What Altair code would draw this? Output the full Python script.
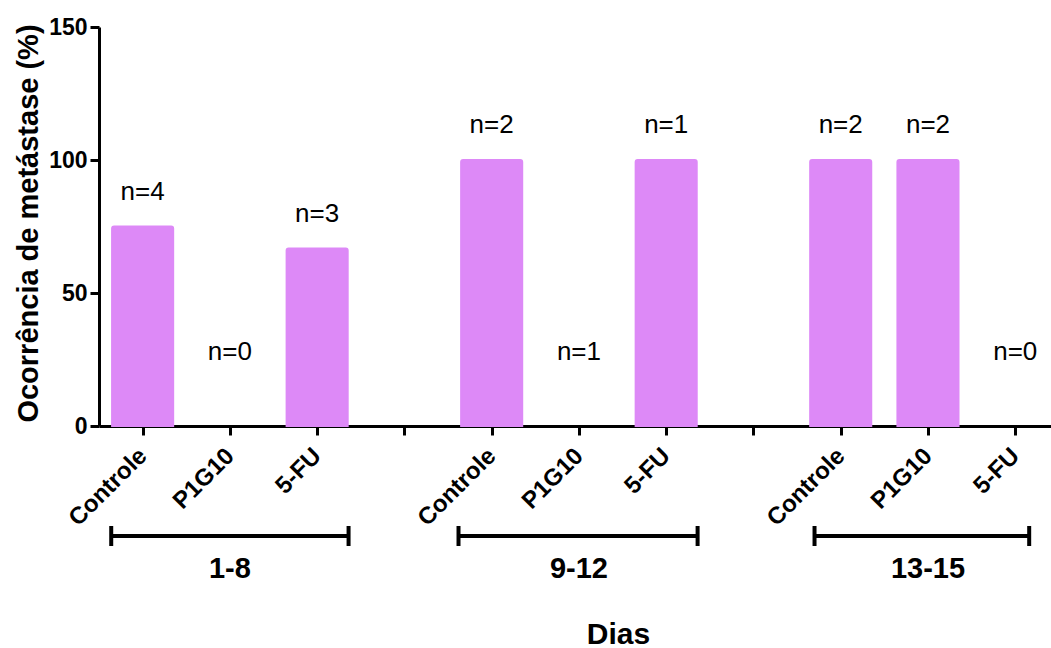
import altair as alt
import pandas as pd

# Metastasis occurrence (%) per treatment within each day window
treatments = ["Controle", "P1G10", "5-FU"]
day_groups = ["1-8", "9-12", "13-15"]
occurrence = [75.0, 0.0, 66.7, 100.0, 0.0, 100.0, 100.0, 100.0, 0.0]
n_animals = [4, 0, 3, 2, 1, 1, 2, 2, 0]

FONT = "Liberation Sans"
BAR_COLOR = "#DD89F7"
HALF_BAR = 0.35          # half bar width, in slot units
SLOTS_PER_GROUP = 4      # three treatments + one empty spacer slot

rows = []
for g, grp in enumerate(day_groups):
    for t, trt in enumerate(treatments):
        k = g * len(treatments) + t
        center = g * SLOTS_PER_GROUP + t + 0.5
        rows.append(
            dict(
                group=grp,
                treatment=trt,
                center=center,
                x0=center - HALF_BAR,
                x1=center + HALF_BAR,
                value=occurrence[k],
                n=f"n={n_animals[k]}",
                label_y=max(occurrence[k], 15.0) + 10.0,
            )
        )
df = pd.DataFrame(rows)

# brackets under the axis spanning each day window (in slot units)
bracket_span = [(0.14, 2.86), (4.12, 6.86), (8.2, 10.66)]
brackets = pd.DataFrame(
    {
        "group": day_groups,
        "b0": [s[0] for s in bracket_span],
        "b1": [s[1] for s in bracket_span],
        "mid": [g * SLOTS_PER_GROUP + 1.5 for g in range(len(day_groups))],
    }
)

tick_centers = [i + 0.5 for i in range(11)]
x_scale = alt.Scale(domain=[0, 10.91], nice=False, zero=False)
x_axis = alt.Axis(
    values=tick_centers,
    labelExpr="['Controle','P1G10','5-FU',''][floor(datum.value) % 4]",
    labelAngle=315,
    labelAlign="right",
    labelBaseline="middle",
    labelFontSize=24,
    labelFontWeight="bold",
    labelPadding=17,
    tickSize=9,
    tickWidth=3,
    domainWidth=3,
    grid=False,
    title="Dias",
    titleFontSize=30,
    titleFontWeight="bold",
    titleX=519,
    titleY=217,
    titleAlign="center",
    titleBaseline="alphabetic",
)
y_scale = alt.Scale(domain=[0, 150], nice=False)
y_axis = alt.Axis(
    values=[0, 50, 100, 150],
    labelFontSize=23,
    labelFontWeight="bold",
    labelPadding=3,
    tickSize=9,
    tickWidth=3,
    domainWidth=3,
    grid=False,
    title="Ocorrência de metástase (%)",
    titleFontSize=29,
    titleFontWeight="bold",
    titleAngle=270,
    titleX=-62,
    titleY=196,
    titleAlign="center",
    titleBaseline="alphabetic",
)


def X(field):
    return alt.X(field, type="quantitative", scale=x_scale, axis=x_axis)


bars = (
    alt.Chart(df)
    .transform_filter("datum.value > 0")
    .mark_bar(
        color=BAR_COLOR,
        stroke=BAR_COLOR,
        strokeWidth=2,
        cornerRadiusTopLeft=2,
        cornerRadiusTopRight=2,
    )
    .encode(
        x=X("x0"),
        x2="x1",
        y=alt.Y("value:Q", scale=y_scale, axis=y_axis),
        y2=alt.datum(0),
    )
)

n_labels = (
    alt.Chart(df)
    .mark_text(font=FONT, fontSize=26, align="center", baseline="alphabetic", color="black")
    .encode(
        x=X("center"),
        y=alt.Y("label_y:Q", scale=y_scale, axis=y_axis),
        text="n:N",
    )
)

bracket_line = (
    alt.Chart(brackets)
    .mark_rule(color="black", strokeWidth=4)
    .encode(x=X("b0"), x2="b1", y=alt.value(509))
)
bracket_left = (
    alt.Chart(brackets)
    .mark_rule(color="black", strokeWidth=4)
    .encode(x=X("b0"), y=alt.value(499), y2=alt.value(519))
)
bracket_right = (
    alt.Chart(brackets)
    .mark_rule(color="black", strokeWidth=4)
    .encode(x=X("b1"), y=alt.value(499), y2=alt.value(519))
)
group_labels = (
    alt.Chart(brackets)
    .mark_text(font=FONT, fontSize=29, fontWeight="bold", align="center", baseline="alphabetic", color="black")
    .encode(x=X("mid"), y=alt.value(551), text="group:N")
)

chart = (
    alt.layer(bars, n_labels, bracket_line, bracket_left, bracket_right, group_labels)
    .properties(
        width=952,
        height=399,
        autosize=alt.AutoSizeParams(type="none"),
        padding={"left": 99, "top": 27, "right": 0, "bottom": 222},
        background="white",
    )
    .configure_view(stroke=None)
    .configure_axis(
        labelFont=FONT,
        titleFont=FONT,
        labelColor="black",
        titleColor="black",
        domainColor="black",
        tickColor="black",
    )
)

chart.save("out.html", embed_options={"renderer": "svg", "actions": False})
